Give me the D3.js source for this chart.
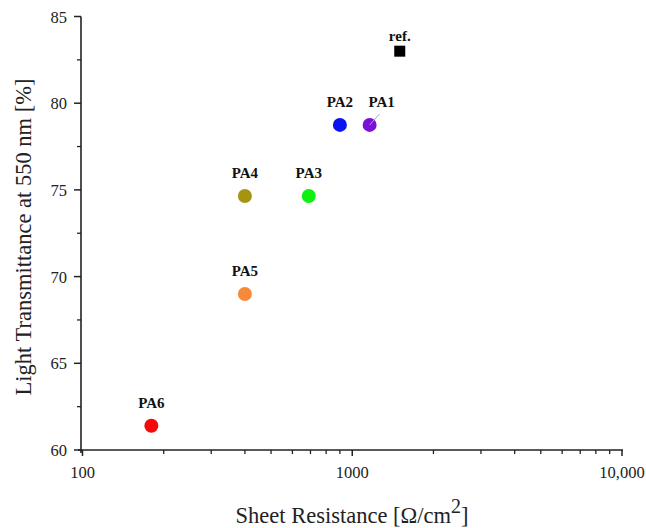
<!DOCTYPE html>
<html lang="en">
<head>
<meta charset="UTF-8">
<script src="https://d3js.org/d3.v7.min.js"></script>
<style>
  body { margin: 0; background: #fff; }
  svg text { font-family: "Liberation Serif", "Times New Roman", serif; }
</style>
</head>
<body>
<div id="chart"></div>
<script>
// data
const names = ["ref.", "PA1", "PA2", "PA3", "PA4", "PA5", "PA6"];
const resistance = [1500, 1160, 900, 690, 400, 400, 180];
const transmittance = [83.0, 78.75, 78.75, 74.65, 74.65, 69.0, 61.4];
const colors = ["#000000", "#7b10d8", "#0a14f0", "#10f010", "#a39510", "#f7893a", "#f50a0a"];
const xTicks = [100, 1000, 10000];
const xTickLabels = ["100", "1000", "10,000"];
const yTicks = [60, 65, 70, 75, 80, 85];

const width = 646, height = 528;
const margin = { left: 81, right: 24, top: 16.5, bottom: 78 };

const svg = d3.select('#chart').append('svg')
  .attr('width', width)
  .attr('height', height);

const x = d3.scaleLog().domain([100, 10000]).range([margin.left + 1.5, width - margin.right]);
const y = d3.scaleLinear().domain([60, 85]).range([height - margin.bottom, margin.top]);

// minor ticks on log axis
const xMinor = [];
for (let d = 100; d < 10000; d *= 10) {
  for (let k = 2; k <= 9; k++) xMinor.push(d * k);
}
const yMinor = d3.range(62.5, 85, 5);

// x axis
const xAxis = svg.append('g').attr('transform', `translate(0,${y(60)})`);
xAxis.append('line')
  .attr('x1', margin.left - 3).attr('x2', x(10000) + 1)
  .attr('stroke', '#222').attr('stroke-width', 1.6);
xAxis.selectAll('.minor').data(xMinor).enter().append('line')
  .attr('x1', d => x(d)).attr('x2', d => x(d))
  .attr('y1', 0).attr('y2', 4)
  .attr('stroke', '#222').attr('stroke-width', 1.3);
xAxis.selectAll('.major').data(xTicks).enter().append('line')
  .attr('x1', d => x(d)).attr('x2', d => x(d))
  .attr('y1', 0).attr('y2', 6)
  .attr('stroke', '#222').attr('stroke-width', 1.5);
xAxis.selectAll('text').data(xTicks).enter().append('text')
  .attr('x', d => x(d)).attr('y', 28)
  .attr('text-anchor', 'middle')
  .attr('font-size', 16.5)
  .attr('fill', '#222')
  .text((d, i) => xTickLabels[i]);

// y axis
const yAxis = svg.append('g').attr('transform', `translate(${margin.left},0)`);
yAxis.append('line')
  .attr('y1', y(85)).attr('y2', y(60) + 3)
  .attr('stroke', '#222').attr('stroke-width', 1.6);
yAxis.selectAll('.minor').data(yMinor).enter().append('line')
  .attr('x1', -4).attr('x2', 0)
  .attr('y1', d => y(d)).attr('y2', d => y(d))
  .attr('stroke', '#222').attr('stroke-width', 1.3);
yAxis.selectAll('.major').data(yTicks).enter().append('line')
  .attr('x1', -7).attr('x2', 0)
  .attr('y1', d => y(d)).attr('y2', d => y(d))
  .attr('stroke', '#222').attr('stroke-width', 1.5);
yAxis.selectAll('text').data(yTicks).enter().append('text')
  .attr('x', -14).attr('y', d => y(d) + 6)
  .attr('text-anchor', 'end')
  .attr('font-size', 16.5)
  .attr('fill', '#222')
  .text(d => d);

// axis titles
const xt = svg.append('text')
  .attr('x', 352).attr('y', 523)
  .attr('text-anchor', 'middle')
  .attr('font-size', 22.5)
  .attr('fill', '#222');
xt.append('tspan').text('Sheet Resistance [\u03A9/cm');
xt.append('tspan').attr('dy', -10).attr('font-size', 20).text('2');
xt.append('tspan').attr('dy', 10).text(']');

svg.append('text')
  .attr('transform', `translate(31,237) rotate(-90)`)
  .attr('text-anchor', 'middle')
  .attr('font-size', 22.5)
  .attr('fill', '#222')
  .text('Light Transmittance at 550 nm [%]');

// points
const pts = names.map((n, i) => ({ name: n, r: resistance[i], t: transmittance[i], c: colors[i] }));

svg.selectAll('.pt').data(pts.filter(d => d.name !== 'ref.')).enter().append('circle')
  .attr('cx', d => x(d.r))
  .attr('cy', d => y(d.t))
  .attr('r', 7)
  .attr('fill', d => d.c);

svg.selectAll('.sq').data(pts.filter(d => d.name === 'ref.')).enter().append('rect')
  .attr('x', d => x(d.r) - 5.5)
  .attr('y', d => y(d.t) - 5.5)
  .attr('width', 11).attr('height', 11)
  .attr('fill', d => d.c);

// leader line for PA1
const pa1 = pts[1];
svg.append('line')
  .attr('x1', x(pa1.r)).attr('y1', y(pa1.t))
  .attr('x2', x(pa1.r) + 10).attr('y2', y(pa1.t) - 11)
  .attr('stroke', '#aaa').attr('stroke-width', 1);

// labels
svg.selectAll('.lbl').data(pts).enter().append('text')
  .attr('x', d => x(d.r) + (d.name === 'PA1' ? 12 : 0))
  .attr('y', d => y(d.t) - (d.name === 'ref.' ? 10 : 18))
  .attr('text-anchor', 'middle')
  .attr('font-size', 15)
  .attr('font-weight', 'bold')
  .attr('fill', '#111')
  .text(d => d.name);
</script>
</body>
</html>
